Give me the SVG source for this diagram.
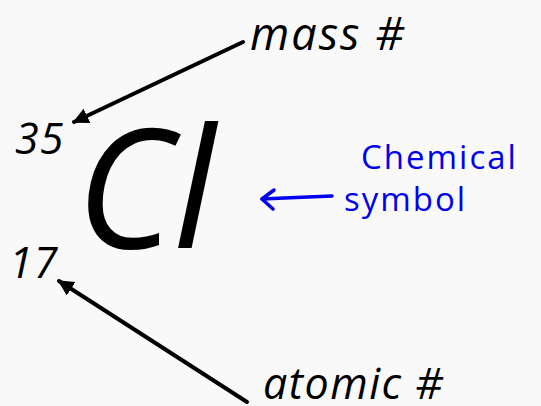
<svg xmlns="http://www.w3.org/2000/svg" width="541" height="406" viewBox="0 0 541 406">
<defs>
<style>
.lbl{font-family:"Open Sans","Noto Sans",sans-serif;font-style:italic;fill:#000}
.hand{font-family:"Open Sans","Noto Sans",sans-serif;fill:#0000ee;font-weight:500;letter-spacing:2px}
.conn{stroke:#000;stroke-width:4;fill:none;stroke-linecap:round}
.blue{stroke:#0000ee;stroke-width:3.5;fill:none;stroke-linecap:round;stroke-linejoin:round}
</style>
<marker id="ah" viewBox="0 0 10 10" refX="9" refY="5" markerWidth="4" markerHeight="4" orient="auto" markerUnits="strokeWidth">
<path d="M0,0 L10,5 L0,10 z" fill="#000"/>
</marker>
</defs>
<rect width="541" height="406" fill="#f9f9f9"/>
<g id="mass-label"><text class="lbl" x="250" y="50" font-size="45" letter-spacing="2">mass #</text></g>
<g id="mass-number"><text class="lbl" x="15" y="154" font-size="43" letter-spacing="1">35</text></g>
<g id="symbol"><text class="lbl" x="76" y="248" font-size="166">Cl</text></g>
<g id="atomic-number"><text class="lbl" x="9" y="278" font-size="43" letter-spacing="1">17</text></g>
<g id="atomic-label"><text class="lbl" x="263" y="399" font-size="43" letter-spacing="1.5">atomic #</text></g>
<g id="chemical-symbol-label"><text class="hand" x="361" y="169" font-size="33">Chemical</text><text class="hand" x="344" y="211" font-size="33">symbol</text></g>
<g id="connectors">
<line class="conn" x1="243" y1="42" x2="74" y2="122" marker-end="url(#ah)"/>
<line class="conn" x1="247" y1="402" x2="59" y2="281" marker-end="url(#ah)"/>
<path class="blue" d="M332,196 C310,197 285,198 262,199"/>
<path class="blue" d="M274,190 L262,199 L273,209"/>
</g>
</svg>
